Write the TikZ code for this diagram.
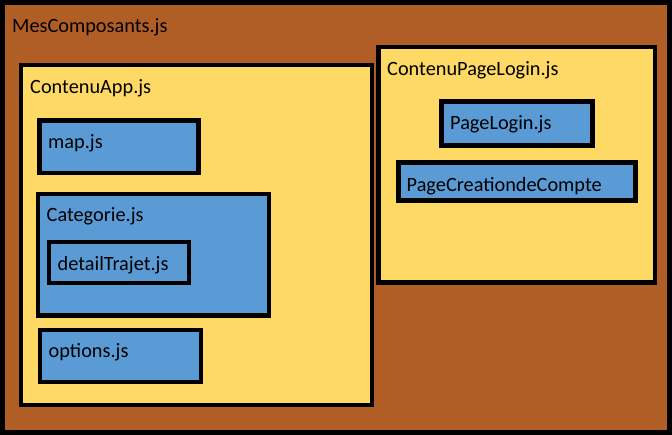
\documentclass[tikz,border=0pt]{standalone}
\usepackage{fontspec}
\setmainfont{Carlito}
\usetikzlibrary{positioning,calc}
\definecolor{brun}{HTML}{B15E26}
\definecolor{jaune}{HTML}{FFD966}
\definecolor{bleu}{HTML}{5B9BD5}

\begin{document}
\begin{tikzpicture}[x=1pt,y=-1pt,
    boite/.style={draw, line width=4.3pt, inner sep=0pt, outer sep=0pt, anchor=north west},
    nom/.style={anchor=base west, inner sep=0pt, font=\fontsize{20.3}{24}\selectfont}]
    \useasboundingbox (0,0) rectangle (672,435);

    % boites
    \node (composants) [boite, fill=brun, minimum width=667pt, minimum height=430pt] at (2.5,2.5) {};
    \node (app) [boite, fill=jaune, minimum width=351pt, minimum height=340pt] at (21,65) {};
    \node (login) [boite, fill=jaune, minimum width=276.5pt, minimum height=235.5pt] at (378.5,47) {};
    \node (map) [boite, fill=bleu, minimum width=159pt, minimum height=52.5pt] at (39.5,120.5) {};
    \node (categorie) [boite, fill=bleu, minimum width=231pt, minimum height=121.5pt] at (38,194) {};
    \node (detail) [boite, fill=bleu, minimum width=140pt, minimum height=41pt] at (49,242) {};
    \node (options) [boite, fill=bleu, minimum width=161pt, minimum height=52pt] at (40,330) {};
    \node (pagelogin) [boite, fill=bleu, minimum width=151pt, minimum height=44pt] at (441.5,101.5) {};
    \node (creation) [boite, fill=bleu, minimum width=237pt, minimum height=38pt] at (398.5,162.5) {};

    % noms
    \node (tcomposants) [nom] at ($(composants.north west)+(9.5,30.5)$) {MesComposants.js};
    \node (tapp) [nom] at ($(app.north west)+(9,28.5)$) {ContenuApp.js};
    \node (tlogin) [nom] at ($(login.north west)+(8.5,29)$) {ContenuPageLogin.js};
    \node (tmap) [nom] at ($(map.north west)+(8.5,28.5)$) {map.js};
    \node (tcategorie) [nom] at ($(categorie.north west)+(8.5,27.5)$) {Categorie.js};
    \node (tdetail) [nom] at ($(detail.north west)+(8.5,28.5)$) {detailTrajet.js};
    \node (toptions) [nom] at ($(options.north west)+(8.5,28)$) {options.js};
    \node (tpagelogin) [nom] at ($(pagelogin.north west)+(8.5,28.5)$) {PageLogin.js};
    \node (tcreation) [nom] at ($(creation.north west)+(8,29)$) {PageCreationdeCompte};
\end{tikzpicture}
\end{document}
